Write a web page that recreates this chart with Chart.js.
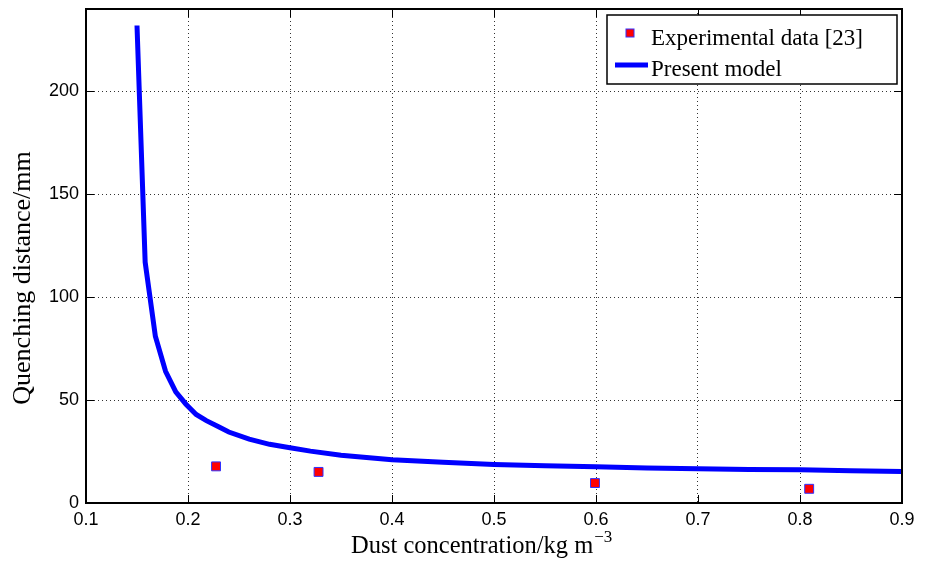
<!DOCTYPE html>
<html lang="en">
<head>
  <meta charset="UTF-8">
  <title>Quenching distance</title>
  <script src="https://cdn.jsdelivr.net/npm/chart.js"></script>
  <style>
    body {
      margin: 0;
      background: #fff;
    }
  </style>
</head>
<body>

<canvas id="chart" width="930" height="564"></canvas>

<script>
// model curve
const modelX = [0.15, 0.158, 0.168, 0.178, 0.188, 0.198, 0.208, 0.218, 0.23, 0.24, 0.26, 0.28, 0.3, 0.32, 0.35, 0.4, 0.45, 0.5, 0.55, 0.6, 0.65, 0.7, 0.75, 0.8, 0.85, 0.9];
const modelY = [232, 117, 81, 64, 54, 48, 43, 40, 37, 34.5, 31, 28.5, 26.8, 25.2, 23.2, 21, 19.8, 18.7, 18.1, 17.6, 17.0, 16.6, 16.3, 16.1, 15.7, 15.3];

// experimental points [23]
const expX = [0.2275, 0.328, 0.599, 0.809];
const expY = [17.8, 15.1, 9.7, 6.9];

const xTicks = [0.1, 0.2, 0.3, 0.4, 0.5, 0.6, 0.7, 0.8, 0.9];
const yTicks = [0, 50, 100, 150, 200];

const legendLabels = ["Experimental data [23]", "Present model"];

const toPoints = (xs, ys) => xs.map((x, i) => ({ x: x, y: ys[i] }));

// box around the plot + inward ticks (matlab style), legend, axis titles
const boxPlugin = {
  id: 'box',
  afterDraw(chart) {
    const ctx = chart.ctx;
    const a = chart.chartArea;
    const xs = chart.scales.x, ys = chart.scales.y;
    ctx.save();
    ctx.strokeStyle = '#000';
    ctx.lineWidth = 1;
    ctx.beginPath();
    xs.ticks.forEach(t => {
      const px = Math.round(xs.getPixelForValue(t.value)) + 0.5;
      ctx.moveTo(px, a.bottom); ctx.lineTo(px, a.bottom - 8);
      ctx.moveTo(px, a.top); ctx.lineTo(px, a.top + 8);
    });
    ys.ticks.forEach(t => {
      const py = Math.round(ys.getPixelForValue(t.value)) + 0.5;
      ctx.moveTo(a.left, py); ctx.lineTo(a.left + 8, py);
      ctx.moveTo(a.right, py); ctx.lineTo(a.right - 8, py);
    });
    ctx.stroke();
    ctx.lineWidth = 2;
    ctx.strokeRect(a.left, a.top, a.right - a.left, a.bottom - a.top);

    // legend box
    const lx = 607, ly = 15, lw = 290, lh = 69;
    ctx.fillStyle = '#fff';
    ctx.fillRect(lx, ly, lw, lh);
    ctx.lineWidth = 1.5;
    ctx.strokeStyle = '#000';
    ctx.strokeRect(lx, ly, lw, lh);

    ctx.fillStyle = '#ff0000';
    ctx.fillRect(626, 29, 8, 8);
    ctx.strokeStyle = '#3030ff';
    ctx.lineWidth = 1;
    ctx.strokeRect(626, 29, 8, 8);

    ctx.strokeStyle = '#0000ff';
    ctx.lineWidth = 5;
    ctx.beginPath();
    ctx.moveTo(615, 65); ctx.lineTo(648, 65);
    ctx.stroke();

    ctx.fillStyle = '#000';
    ctx.font = '23px "Liberation Serif"';
    ctx.textBaseline = 'alphabetic';
    ctx.fillText(legendLabels[0], 651, 45);
    ctx.fillText(legendLabels[1], 651, 76);

    // x axis title with superscript
    ctx.font = '24.5px "Liberation Serif"';
    const main = 'Dust concentration/kg m';
    ctx.fillText(main, 351, 553);
    const w = ctx.measureText(main).width;
    ctx.font = '17px "Liberation Serif"';
    ctx.fillText('\u22123', 351 + w + 1, 542);

    // y axis title
    ctx.translate(30, 278);
    ctx.rotate(-Math.PI / 2);
    ctx.font = '26px "Liberation Serif"';
    ctx.textAlign = 'center';
    ctx.fillText('Quenching distance/mm', 0, 0);
    ctx.restore();
  }
};

const ctx = document.getElementById('chart').getContext('2d');
new Chart(ctx, {
  type: 'scatter',
  data: {
    datasets: [
      {
        label: legendLabels[0],
        data: toPoints(expX, expY),
        pointStyle: 'rect',
        pointRadius: 6.3,
        backgroundColor: '#ff0000',
        borderColor: '#3030ff',
        borderWidth: 1,
        order: 1
      },
      {
        label: legendLabels[1],
        data: toPoints(modelX, modelY),
        showLine: true,
        borderColor: '#0000ff',
        borderWidth: 5,
        pointRadius: 0,
        tension: 0,
        order: 2
      }
    ]
  },
  options: {
    responsive: false,
    animation: false,
    layout: { padding: { top: 9, right: 28, left: 0, bottom: 0 } },
    plugins: {
      legend: { display: false },
      tooltip: { enabled: false }
    },
    scales: {
      x: {
        type: 'linear',
        min: 0.1,
        max: 0.9,
        afterBuildTicks: s => { s.ticks = xTicks.map(v => ({ value: v })); },
        afterFit: s => { s.height = 61; s.paddingLeft = 0; s.paddingRight = 0; },
        ticks: {
          padding: 6,
          color: '#000',
          font: { family: 'Liberation Sans', size: 18 },
          callback: v => v.toFixed(1),
          maxRotation: 0
        },
        grid: { color: '#333', drawTicks: false },
        border: { display: false, dash: [1, 3] }
      },
      y: {
        min: 0,
        max: 240,
        afterBuildTicks: s => { s.ticks = yTicks.map(v => ({ value: v })); },
        afterFit: s => { s.width = 86; s.paddingTop = 0; s.paddingBottom = 0; },
        ticks: {
          padding: 7,
          color: '#000',
          font: { family: 'Liberation Sans', size: 18 }
        },
        grid: { color: '#333', drawTicks: false },
        border: { display: false, dash: [1, 3] }
      }
    }
  },
  plugins: [boxPlugin]
});
</script>

</body>
</html>
